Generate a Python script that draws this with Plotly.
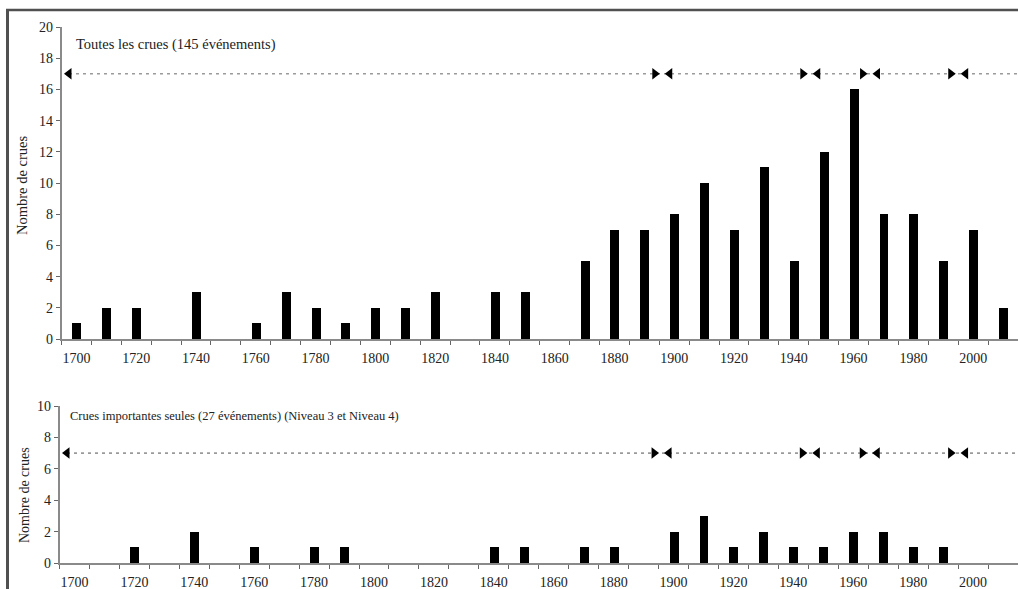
import plotly.graph_objects as go

# ---------------- data ----------------
decades = list(range(1700, 2020, 10))
all_floods = [1, 2, 2, 0, 3, 0, 1, 3, 2, 1, 2, 2, 3, 0, 3, 3, 0, 5, 7, 7,
              8, 10, 7, 11, 5, 12, 16, 8, 8, 5, 7, 2]
major_floods = [0, 0, 1, 0, 2, 0, 1, 0, 1, 1, 0, 0, 0, 0, 1, 1, 0, 1, 1, 0,
                2, 3, 1, 2, 1, 1, 2, 2, 1, 1, 0, 0]
x_tick_labels = list(range(1700, 2001, 20))
top_y_ticks = list(range(0, 21, 2))
bottom_y_ticks = list(range(0, 11, 2))
# homogeneous periods (arrow positions, years)
period_starts = [1697.5, 1898.5, 1948, 1968, 1997.5]
period_ends = [1893.5, 1943, 1963, 1992.5]
top_period_level = 17
bottom_period_level = 7
top_title = "Toutes les crues (145 événements)"
bottom_title = "Crues importantes seules (27 événements) (Niveau 3 et Niveau 4)"
y_title = "Nombre de crues"

# ---------------- figure ----------------
W, H = 1018, 589
FONT = "Liberation Serif"
TXT = "#222222"
AX = "#8a8a8a"
X_RANGE = [1695, 2015]

fig = go.Figure()


def add_panel(values, level, xa, ya):
    fig.add_trace(go.Bar(x=decades, y=values, width=3, marker=dict(color="black", line=dict(width=0)),
                         xaxis=xa, yaxis=ya, showlegend=False, hoverinfo="x+y"))
    fig.add_trace(go.Scatter(x=[period_starts[0], X_RANGE[1]], y=[level, level], mode="lines",
                             line=dict(color="#9a9a9a", width=1.6, dash="3px,4px"),
                             xaxis=xa, yaxis=ya, showlegend=False, hoverinfo="skip"))
    fig.add_trace(go.Scatter(x=period_starts, y=[level] * len(period_starts), mode="markers",
                             marker=dict(symbol="triangle-left", size=10, color="black"),
                             xaxis=xa, yaxis=ya, showlegend=False, hoverinfo="skip"))
    fig.add_trace(go.Scatter(x=period_ends, y=[level] * len(period_ends), mode="markers",
                             marker=dict(symbol="triangle-right", size=10, color="black"),
                             xaxis=xa, yaxis=ya, showlegend=False, hoverinfo="skip"))


add_panel(all_floods, top_period_level, "x", "y")
add_panel(major_floods, bottom_period_level, "x2", "y2")

minor_ticks = [v - 5 for v in decades] + [decades[-1] + 5]


def xaxis_cfg(x0, anchor):
    return dict(domain=[x0 / W, 1], range=X_RANGE, anchor=anchor, automargin=False,
                tickmode="array", tickvals=x_tick_labels, ticktext=[str(v) for v in x_tick_labels],
                ticks="outside", ticklen=5, tickcolor="rgba(0,0,0,0)",
                minor=dict(tickmode="array", tickvals=minor_ticks, ticks="outside",
                           ticklen=4, tickwidth=1, tickcolor="#666"),
                showline=True, linecolor=AX, linewidth=1.5, showgrid=False, zeroline=False,
                tickfont=dict(family=FONT, size=14, color=TXT))


def yaxis_cfg(y0px, y1px, rng, ticks, anchor):
    return dict(domain=[1 - y0px / H, 1 - y1px / H], range=rng, anchor=anchor, automargin=False,
                tickmode="array", tickvals=ticks, ticks="outside", ticklen=4, tickwidth=1,
                tickcolor="#666", showline=True, linecolor=AX, linewidth=1.5,
                showgrid=False, zeroline=False,
                tickfont=dict(family=FONT, size=14, color=TXT))


fig.update_layout(
    template="none",
    width=W, height=H, margin=dict(l=0, r=0, t=0, b=0, pad=0), autosize=False,
    paper_bgcolor="white", plot_bgcolor="white", bargap=0, showlegend=False,
    xaxis=xaxis_cfg(61.5, "y"),
    yaxis=yaxis_cfg(339, 27, [0, 20], top_y_ticks, "x"),
    xaxis2=xaxis_cfg(59.5, "y2"),
    yaxis2=yaxis_cfg(563, 406, [0, 10], bottom_y_ticks, "x2"),
    annotations=[
        dict(text=top_title, xref="paper", yref="paper", x=74 / W, y=1 - 44 / H,
             xanchor="left", yanchor="middle", showarrow=False,
             font=dict(family=FONT, size=14.5, color=TXT)),
        dict(text=bottom_title, xref="paper", yref="paper", x=68 / W, y=1 - 416 / H,
             xanchor="left", yanchor="middle", showarrow=False,
             font=dict(family=FONT, size=12.5, color=TXT)),
        dict(text=y_title, xref="paper", yref="paper", x=22 / W, y=1 - 186 / H,
             xanchor="center", yanchor="middle", showarrow=False, textangle=-90,
             font=dict(family=FONT, size=14.5, color=TXT)),
        dict(text=y_title, xref="paper", yref="paper", x=24 / W, y=1 - 495 / H,
             xanchor="center", yanchor="middle", showarrow=False, textangle=-90,
             font=dict(family=FONT, size=14, color=TXT)),
    ],
    shapes=[
        dict(type="line", xref="paper", yref="paper", x0=7.5 / W, x1=7.5 / W, y0=0, y1=1 - 9 / H,
             line=dict(color="#505050", width=3)),
        dict(type="line", xref="paper", yref="paper", x0=6 / W, x1=1, y0=1 - 10 / H, y1=1 - 10 / H,
             line=dict(color="#505050", width=2.5)),
    ],
)

fig.write_html("out.html", config={"displayModeBar": False},
               post_script="document.body.style.margin='0px';document.body.style.overflow='hidden';")
